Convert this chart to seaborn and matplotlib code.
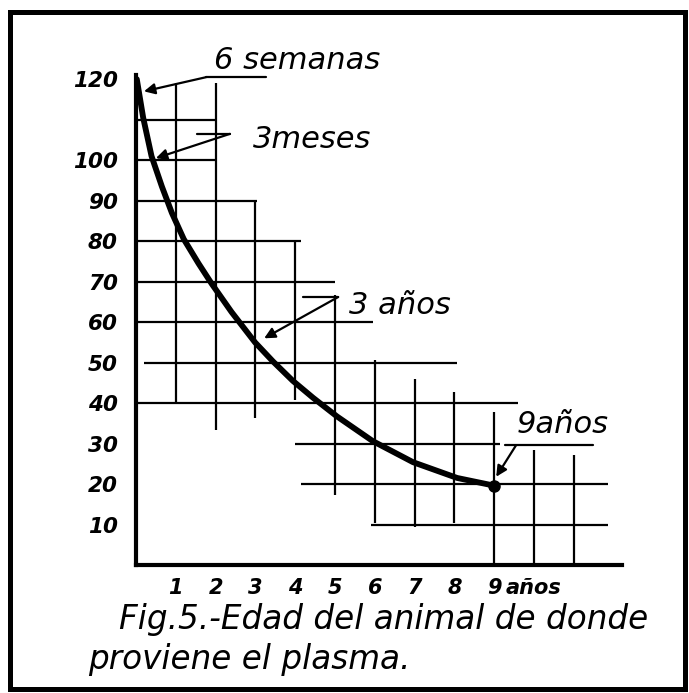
import matplotlib
matplotlib.use("Agg")
import matplotlib.pyplot as plt
import seaborn as sns
import pandas as pd
from matplotlib.patches import Rectangle

# curve: age of the animal (years) vs value
edad = [0.02, 0.18, 0.39, 0.65, 0.9, 1.2, 1.57, 1.9, 2.4, 2.99,
        3.44, 3.94, 4.45, 5.05, 5.95, 6.96, 8.07, 9.0]
valor = [120, 110.5, 101, 93.5, 87, 80.5, 74.5, 69.5, 62.5, 55,
         50.3, 45.5, 41.3, 36.7, 30.6, 25.4, 21.5, 19.6]

# hand drawn grid segments
h_y = [110, 100, 90, 80, 70, 60, 50, 40, 30, 20, 10]
h_x0 = [0, 0, 0, 0, 0, 0, 0.2, 0, 4.0, 4.15, 5.9]
h_x1 = [2.0, 2.0, 3.05, 4.15, 5.0, 5.95, 8.07, 9.6, 9.15, 11.86, 11.86]
v_x = [1, 2, 3, 4, 5, 6, 7, 8, 9, 10, 11]
v_y0 = [40, 33.3, 36.3, 40.7, 17.3, 10.4, 9.4, 10.4, 0, 0, 0]
v_y1 = [119, 119, 90, 80.2, 66.7, 50.6, 46, 42.7, 37.8, 28.4, 27.2]

y_ticks = [10, 20, 30, 40, 50, 60, 70, 80, 90, 100, 120]
x_ticks = [1, 2, 3, 4, 5, 6, 7, 8, 9, 10]
x_labels = ["1", "2", "3", "4", "5", "6", "7", "8", "9", "años"]

# annotations: text, text pos, leader bar, arrow start, arrow tip
notas = ["6 semanas", "3meses", "3 años", "9años"]
nota_xy = [(4.05, 124.7), (4.42, 105), (6.63, 64.2), (10.73, 34.6)]
barra = [(1.76, 3.27, 120.5), (1.53, 2.36, 106.5), (4.2, 5.08, 66.2), (9.27, 11.48, 29.6)]
flecha_desde = [(1.76, 120.5), (2.36, 106.5), (5.08, 66.2), (9.55, 29.6)]
flecha_hasta = [(0.2, 117), (0.5, 100.5), (3.22, 56), (9.05, 21.8)]

sns.set_style("white")
plt.rcParams["font.family"] = ["DejaVu Sans"]
plt.rcParams["text.color"] = "black"
plt.rcParams["xtick.color"] = "black"
plt.rcParams["ytick.color"] = "black"
plt.rcParams["axes.edgecolor"] = "black"

fig = plt.figure(figsize=(6.89, 6.93), dpi=100)
ax = fig.add_axes([0.1974, 0.1847, 0.7105, 0.7302])

df = pd.DataFrame({"edad": edad, "valor": valor})
sns.lineplot(data=df, x="edad", y="valor", ax=ax, color="black", lw=4.2,
             solid_capstyle="round", solid_joinstyle="round")
ax.plot(edad[-1], valor[-1], "o", color="black", ms=8)

ax.hlines(h_y, h_x0, h_x1, color="black", lw=1.6)
ax.vlines(v_x, v_y0, v_y1, color="black", lw=1.6)

for txt, (tx, ty), (b0, b1, by), (fx, fy), (hx, hy) in zip(notas, nota_xy, barra, flecha_desde, flecha_hasta):
    ax.text(tx, ty, txt, ha="center", va="center", fontsize=22, style="italic",
            color="black", clip_on=False)
    ax.plot([b0, b1], [by, by], color="black", lw=1.6, clip_on=False)
    ax.annotate("", xy=(hx, hy), xytext=(fx, fy),
                arrowprops=dict(arrowstyle="-|>", color="black", lw=1.6,
                                mutation_scale=16, shrinkA=0, shrinkB=0))

ax.set_xlim(0, 12.3)
ax.set_ylim(0, 125)
ax.set_xticks(x_ticks)
ax.set_xticklabels(x_labels)
ax.set_yticks(y_ticks)
ax.set_xlabel("")
ax.set_ylabel("")
for side in ["top", "right"]:
    ax.spines[side].set_visible(False)
ax.spines["left"].set_linewidth(3)
ax.spines["bottom"].set_linewidth(3)
ax.spines["left"].set_bounds(0, 121)
ax.spines["bottom"].set_bounds(0, 12.2)
ax.tick_params(axis="x", direction="inout", length=9, width=1.5, pad=5)
ax.tick_params(axis="y", direction="in", length=6, width=1.5, pad=13)
for lab in ax.get_xticklabels():
    lab.set_fontsize(15)
    lab.set_fontweight("bold")
    lab.set_fontstyle("italic")
for lab in ax.get_yticklabels():
    lab.set_fontsize(15.5)
    lab.set_fontweight("bold")
    lab.set_fontstyle("italic")

fig.text(119 / 689, 1 - 620 / 693, "Fig.5.-Edad del animal de donde",
         ha="left", va="center", fontsize=23.5, style="italic", color="black")
fig.text(88 / 689, 1 - 660 / 693, "proviene el plasma.",
         ha="left", va="center", fontsize=23.5, style="italic", color="black")

fig.patches.append(Rectangle((0.0145, 0.006), 0.98, 0.976, transform=fig.transFigure,
                             fill=False, edgecolor="black", lw=3.6))

fig.savefig("out.png", dpi=100)
